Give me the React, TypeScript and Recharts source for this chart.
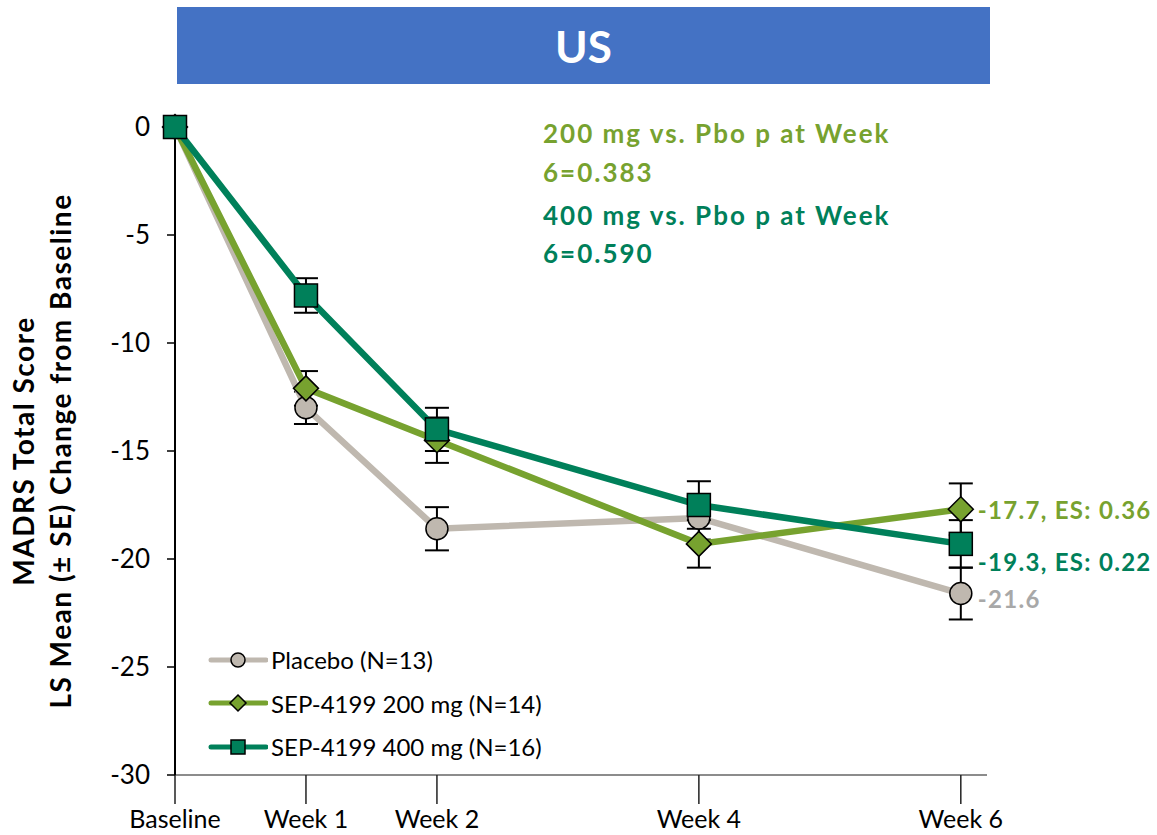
import { LineChart, Line, XAxis, YAxis, ErrorBar, Legend, LabelList } from "recharts";

// 주차(0 = baseline) 와 x축 라벨
const WEEKS = [0, 1, 2, 4, 6];
const TICK_LABELS = ["Baseline", "Week 1", "Week 2", "Week 4", "Week 6"];
const Y_TICKS = [0, -5, -10, -15, -20, -25, -30];

// LS mean change from baseline (± SE)
const PLACEBO = [0, -13.0, -18.6, -18.1, -21.6];
const PLACEBO_SE = [0, 0.75, 1.0, 1.0, 1.2];
const DOSE_200 = [0, -12.1, -14.5, -19.3, -17.7];
const DOSE_200_SE = [0, 0.8, 1.05, 1.1, 1.2];
const DOSE_400 = [0, -7.8, -14.0, -17.5, -19.3];
const DOSE_400_SE = [0, 0.8, 1.0, 1.1, 1.1];

const LEGEND_NAMES = ["Placebo (N=13)", "SEP-4199 200 mg (N=14)", "SEP-4199 400 mg (N=16)"];
const END_LABELS = ["-21.6", "-17.7, ES: 0.36", "-19.3, ES: 0.22"];
const P_NOTES = ["200 mg vs. Pbo p at Week", "6=0.383", "400 mg vs. Pbo p at Week", "6=0.590"];

const FONT = "Lato, 'Open Sans', sans-serif";
const GRAY = "#BFB8AF";
const LIME = "#77A22F";
const TEAL = "#00805A";

const data = WEEKS.map((w, i) => ({
  week: w,
  placebo: PLACEBO[i],
  placeboSe: PLACEBO_SE[i],
  d200: DOSE_200[i],
  d200Se: DOSE_200_SE[i],
  d400: DOSE_400[i],
  d400Se: DOSE_400_SE[i],
}));

type Shape = "circle" | "diamond" | "square";

const SERIES: {
  key: string;
  se: string;
  shape: Shape;
  color: string;
  labelColor: string;
  labelDy: number;
}[] = [
  { key: "placebo", se: "placeboSe", shape: "circle", color: GRAY, labelColor: "#A8A8A8", labelDy: 5 },
  { key: "d200", se: "d200Se", shape: "diamond", color: LIME, labelColor: LIME, labelDy: 0 },
  { key: "d400", se: "d400Se", shape: "square", color: TEAL, labelColor: TEAL, labelDy: 18 },
];

function marker(shape: Shape, cx: number, cy: number, size: number, color: string, key?: string) {
  const h = size / 2;
  if (shape === "circle") {
    return <circle key={key} cx={cx} cy={cy} r={h} fill={color} stroke="#000" strokeWidth={1.5} />;
  }
  if (shape === "diamond") {
    return (
      <polygon
        key={key}
        points={`${cx},${cy - h} ${cx + h},${cy} ${cx},${cy + h} ${cx - h},${cy}`}
        fill={color}
        stroke="#000"
        strokeWidth={1.5}
      />
    );
  }
  return (
    <rect key={key} x={cx - h} y={cy - h} width={size} height={size} fill={color} stroke="#000" strokeWidth={1.5} />
  );
}

const DOT_SIZE: Record<Shape, number> = { circle: 22, diamond: 25, square: 23 };

function LegendBox() {
  return (
    <div style={{ fontFamily: FONT, fontSize: 24, color: "#000" }}>
      {SERIES.map((s, i) => (
        <div key={s.key} style={{ display: "flex", alignItems: "center", height: 43.5 }}>
          <svg width={60} height={24} style={{ display: "block" }}>
            <line x1={3} y1={12} x2={58} y2={12} stroke={s.color} strokeWidth={5} strokeLinecap="round" />
            {marker(s.shape, 30, 12, s.shape === "diamond" ? 16 : 14, s.color)}
          </svg>
          <span style={{ marginLeft: 3, whiteSpace: "nowrap" }}>{LEGEND_NAMES[i]}</span>
        </div>
      ))}
    </div>
  );
}

export default function App() {
  const last = WEEKS.length - 1;
  return (
    <div style={{ position: "absolute", left: 0, top: 0, width: 1157, height: 835, background: "#fff", fontFamily: FONT }}>
      {/* 상단 제목 바 */}
      <div
        style={{
          position: "absolute",
          left: 177,
          top: 7,
          width: 813,
          height: 77,
          background: "#4472C4",
          color: "#fff",
          fontWeight: 700,
          fontSize: 44,
          display: "flex",
          alignItems: "center",
          justifyContent: "center",
        }}
      >
        US
      </div>

      {/* y축 제목 (2줄, 회전) */}
      <div
        style={{
          position: "absolute",
          left: 42,
          top: 451,
          width: 640,
          transform: "translate(-50%, -50%) rotate(-90deg)",
          textAlign: "center",
          fontWeight: 700,
          fontSize: 28,
          letterSpacing: 1.5,
          lineHeight: "37px",
          color: "#000",
          whiteSpace: "nowrap",
        }}
      >
        <div>MADRS Total Score</div>
        <div>LS Mean (± SE) Change from Baseline</div>
      </div>

      <LineChart
        width={1157}
        height={835}
        data={data}
        margin={{ top: 127, right: 170, bottom: 0, left: 95 }}
        style={{ position: "absolute", left: 0, top: 0 }}
      >
        <XAxis
          type="number"
          dataKey="week"
          domain={[0, 6.2]}
          ticks={WEEKS}
          tickFormatter={(v: number) => TICK_LABELS[WEEKS.indexOf(v)] ?? ""}
          height={60}
          tickSize={29}
          tickMargin={6}
          axisLine={{ stroke: "#8C8C8C", strokeWidth: 2 }}
          tickLine={{ stroke: "#222", strokeWidth: 1.5 }}
          tick={{ fontSize: 25, fill: "#000", fontFamily: FONT }}
          interval={0}
        />
        <YAxis
          type="number"
          domain={[-30, 0]}
          ticks={Y_TICKS}
          width={80}
          tickSize={8}
          tickMargin={17}
          axisLine={{ stroke: "#000", strokeWidth: 2 }}
          tickLine={{ stroke: "#000", strokeWidth: 1.5 }}
          tick={{ fontSize: 26, fill: "#000", fontFamily: FONT }}
          interval={0}
        />
        <Legend
          layout="vertical"
          align="center"
          verticalAlign="middle"
          content={() => <LegendBox />}
          wrapperStyle={{ left: 208, top: 638, width: "auto" }}
        />
        {SERIES.map((s, si) => (
          <Line
            key={s.key}
            dataKey={s.key}
            type="linear"
            stroke={s.color}
            strokeWidth={6.5}
            isAnimationActive={false}
            activeDot={false}
            dot={(p: any) => marker(s.shape, p.cx, p.cy, DOT_SIZE[s.shape], s.color, `dot-${s.key}-${p.index}`)}
          >
            <ErrorBar dataKey={s.se} direction="y" width={12} stroke="#000" strokeWidth={2} />
            <LabelList
              dataKey={s.key}
              content={(p: any) =>
                p.index === last ? (
                  <text
                    x={Number(p.x) + 17}
                    y={Number(p.y) + s.labelDy}
                    dominantBaseline="central"
                    fill={s.labelColor}
                    fontSize={24}
                    fontWeight={700}
                    fontFamily={FONT}
                    letterSpacing={1.3}
                  >
                    {END_LABELS[si]}
                  </text>
                ) : null
              }
            />
          </Line>
        ))}
      </LineChart>

      {/* p-value 주석 */}
      {P_NOTES.map((t, i) => (
        <div
          key={t}
          style={{
            position: "absolute",
            left: 543,
            top: [133, 172, 215, 253][i] - 16,
            height: 32,
            lineHeight: "32px",
            fontSize: 26,
            fontWeight: 700,
            letterSpacing: 2,
            color: i < 2 ? LIME : TEAL,
            whiteSpace: "nowrap",
          }}
        >
          {t}
        </div>
      ))}
    </div>
  );
}
